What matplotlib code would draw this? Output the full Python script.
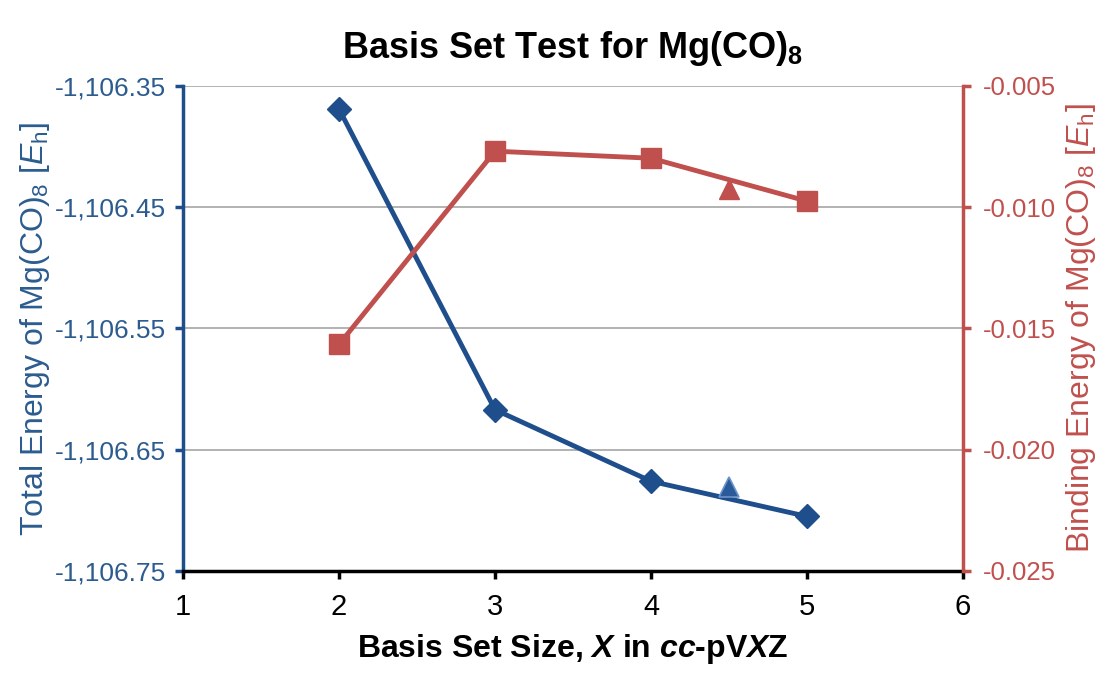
import matplotlib
matplotlib.use('Agg')
import matplotlib.pyplot as plt
from matplotlib.ticker import FuncFormatter, MultipleLocator

plt.rcParams['font.family'] = ['Liberation Sans', 'DejaVu Sans']
plt.rcParams['mathtext.fontset'] = 'custom'
plt.rcParams['mathtext.rm'] = 'Liberation Sans'
plt.rcParams['mathtext.it'] = 'Liberation Sans:italic'
plt.rcParams['mathtext.bf'] = 'Liberation Sans:bold'
plt.rcParams['mathtext.bfit'] = 'Liberation Sans:italic:bold'

# data
basis_x = [2, 3, 4, 5]
total_energy = [-1106.369, -1106.617, -1106.676, -1106.705]
binding_energy = [-0.01566, -0.00769, -0.00798, -0.00975]
extrap_x = [4.5]
total_extrap = [-1106.681]
binding_extrap = [-0.00926]
left_ticks = [-1106.75, -1106.65, -1106.55, -1106.45, -1106.35]
right_ticks = [-0.025, -0.020, -0.015, -0.010, -0.005]

blue = '#1F4E8C'
red = '#C0504D'
label_blue = '#2C5C8F'

fig = plt.figure(figsize=(11.07, 6.73), dpi=100)
ax = fig.add_axes([0.1653, 0.1516, 0.7046, 0.7207])
ax2 = ax.twinx()

ax.plot(basis_x, total_energy, color=blue, lw=3.5, marker='D', ms=12.5, zorder=3)
ax.plot(extrap_x, total_extrap, ls='none', marker='^', ms=14, color='#2B5A9A',
        mec='#6A93C9', mew=1.2, zorder=3)
ax2.plot(basis_x, binding_energy, color=red, lw=3.5, marker='s', ms=15, zorder=3)
ax2.plot(extrap_x, binding_extrap, ls='none', marker='^', ms=14, color=red, zorder=3)

ax.set_xlim(1, 6)
ax.set_ylim(left_ticks[0], left_ticks[-1])
ax2.set_ylim(right_ticks[0], right_ticks[-1])
ax.xaxis.set_major_locator(MultipleLocator(1))
ax.set_yticks(left_ticks)
ax2.set_yticks(right_ticks)
ax.yaxis.set_major_formatter(FuncFormatter(lambda v, p: f'{v:,.2f}'))
ax2.yaxis.set_major_formatter(FuncFormatter(lambda v, p: f'{v:.3f}'))

ax.grid(axis='y', color='#A6A6A6', lw=1.2)
ax.set_axisbelow(True)

for a in (ax, ax2):
    a.spines['top'].set_visible(False)
ax.spines['right'].set_visible(False)
ax.spines['left'].set_color(blue)
ax.spines['left'].set_linewidth(2.5)
ax.spines['bottom'].set_color('black')
ax.spines['bottom'].set_linewidth(2.5)
ax2.spines['left'].set_visible(False)
ax2.spines['bottom'].set_visible(False)
ax2.spines['right'].set_color(red)
ax2.spines['right'].set_linewidth(2.5)

ax.tick_params(axis='y', colors=label_blue, labelsize=19, length=6, width=2.5, color=blue, pad=6)
ax.tick_params(axis='x', colors='black', labelsize=21, length=6, width=2.5, pad=10)
ax2.tick_params(axis='y', colors=red, labelsize=18.5, length=6, width=2.5, pad=8)

ax.set_title(r'Basis Set Test for Mg(CO)$_\mathbf{8}$', fontsize=26, fontweight='bold', pad=20)
ax.set_xlabel(r'Basis Set Size, $\mathbfit{X}$ in $\mathbfit{cc}$-pV$\mathbfit{X}$Z',
              fontsize=23, fontweight='bold', labelpad=8)
ax.set_ylabel(r'Total Energy of Mg(CO)$_8$ [$\mathit{E}_\mathrm{h}$]', fontsize=23,
              color=label_blue, labelpad=2)
ax2.set_ylabel(r'Binding Energy of Mg(CO)$_8$ [$\mathit{E}_\mathrm{h}$]', fontsize=23,
               color=red, labelpad=6)

fig.savefig('out.png', dpi=100)
